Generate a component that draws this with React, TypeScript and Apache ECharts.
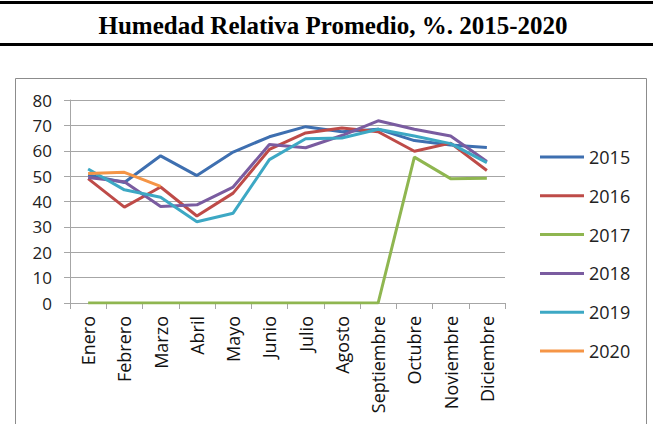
import React, { useEffect, useRef } from "react";
import * as echarts from "echarts";

const months = ["Enero", "Febrero", "Marzo", "Abril", "Mayo", "Junio", "Julio", "Agosto", "Septiembre", "Octubre", "Noviembre", "Diciembre"];
const years = ["2015", "2016", "2017", "2018", "2019", "2020"];
const s2015 = [50.5, 47.5, 58, 50.2, 59.5, 65.5, 69.5, 67.5, 68.5, 64, 62.3, 61.3];
const s2016 = [49, 37.8, 45.7, 34.3, 43.3, 60.5, 67, 69, 67.5, 59.8, 63, 52.2];
const s2017 = [0, 0, 0, 0, 0, 0, 0, 0, 0, 57.5, 49, 49.2];
const s2018 = [49.5, 47.8, 38, 38.7, 45.7, 62.5, 61.2, 66, 71.8, 68.5, 65.8, 55.8];
const s2019 = [52.8, 44.6, 41.7, 32, 35.4, 56.5, 64.7, 65, 68.5, 65.8, 62.8, 55.3];
const s2020 = [51, 51.5, 46];
const seriesData = [s2015, s2016, s2017, s2018, s2019, s2020];
const colors = ["#3e6fb0", "#be4b48", "#8fb650", "#7a5ca0", "#3da8c4", "#f59546"];
const yTicks = [0, 10, 20, 30, 40, 50, 60, 70, 80];

export default function App() {
  const ref = useRef<HTMLDivElement>(null);
  useEffect(() => {
    document.body.style.margin = "0";
    const chart = echarts.init(ref.current!, null, { renderer: "svg" });
    chart.setOption({
      animation: false,
      backgroundColor: "#ffffff",
      graphic: [
        { type: "rect", shape: { x: 0, y: 1, width: 653, height: 3 }, style: { fill: "#000" } },
        { type: "rect", shape: { x: 0, y: 43, width: 653, height: 3 }, style: { fill: "#000" } },
        {
          type: "text",
          x: 333,
          y: 25,
          style: {
            text: "Humedad Relativa Promedio, %. 2015-2020",
            font: "bold 25px 'Liberation Serif'",
            fill: "#000",
            align: "center",
            verticalAlign: "middle",
          },
        },
        {
          type: "rect",
          shape: { x: 15.5, y: 78.5, width: 631, height: 380 },
          style: { fill: "none", stroke: "#8c8c8c", lineWidth: 1 },
          z: -1,
        },
      ],
      grid: { left: 70, right: 148, top: 100, bottom: 121 },
      legend: {
        orient: "vertical",
        left: 535,
        top: 142,
        itemWidth: 44,
        itemHeight: 3,
        itemGap: 18.8,
        icon: "rect",
        data: years,
        textStyle: { fontSize: 18, lineHeight: 20, color: "#222", fontFamily: "'Open Sans'" },
      },
      xAxis: {
        type: "category",
        data: months,
        boundaryGap: true,
        axisLine: { lineStyle: { color: "#a6a6a6" } },
        axisTick: { show: true, interval: 0, length: 6, lineStyle: { color: "#a6a6a6" } },
        axisLabel: {
          rotate: 90,
          interval: 0,
          margin: 13,
          fontSize: 18,
          color: "#111",
          fontFamily: "'Open Sans'",
        },
      },
      yAxis: {
        type: "value",
        min: 0,
        max: 80,
        interval: 10,
        axisLine: { show: true, lineStyle: { color: "#a6a6a6" } },
        axisTick: { show: true, length: 6, lineStyle: { color: "#a6a6a6" } },
        splitLine: { lineStyle: { color: "#a6a6a6" } },
        axisLabel: {
          margin: 18,
          fontSize: 17,
          color: "#222",
          fontFamily: "'Open Sans'",
          formatter: (v: number) => (yTicks.includes(v) ? String(v) : ""),
        },
      },
      series: years.map((y, i) => ({
        name: y,
        type: "line",
        data: seriesData[i],
        symbol: "none",
        color: colors[i],
        lineStyle: { width: 3, color: colors[i] },
        z: 2 + i,
      })),
    });
    return () => chart.dispose();
  }, []);
  return <div ref={ref} style={{ position: "fixed", left: 0, top: 0, width: 653, height: 424 }} />;
}
